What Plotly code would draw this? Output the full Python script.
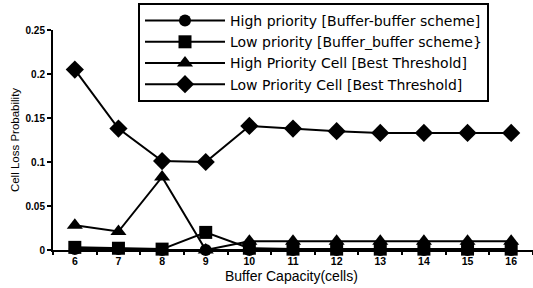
import plotly.graph_objects as go

buffer_capacity = [6, 7, 8, 9, 10, 11, 12, 13, 14, 15, 16]
high_bb = [0.001, 0.001, 0.0, 0.0, 0.0, 0.0, 0.0, 0.0, 0.0, 0.0, 0.0]
low_bb = [0.003, 0.002, 0.001, 0.020, 0.002, 0.001, 0.001, 0.001, 0.001, 0.001, 0.001]
high_bt = [0.028, 0.021, 0.083, 0.0, 0.010, 0.010, 0.010, 0.010, 0.010, 0.010, 0.010]
low_bt = [0.205, 0.138, 0.101, 0.100, 0.141, 0.138, 0.135, 0.133, 0.133, 0.133, 0.133]

series_names = [
    "High priority [Buffer-buffer scheme]",
    "Low priority [Buffer_buffer scheme}",
    "High Priority Cell [Best Threshold]",
    "Low Priority Cell [Best Threshold]",
]
y_ticks = [0, 0.05, 0.1, 0.15, 0.2, 0.25]
y_tick_text = ["0", "0.05", "0.1", "0.15", "0.2", "0.25"]
x_title = "Buffer Capacity(cells)"
y_title = "Cell Loss Probability"

symbols = ["circle", "square", "triangle-up", "diamond"]
sizes = [12, 13, 14, 14]

fig = go.Figure()
for name, vals, sym, sz in zip(series_names, [high_bb, low_bb, high_bt, low_bt], symbols, sizes):
    fig.add_trace(go.Scatter(
        x=buffer_capacity, y=vals, name=name, mode="lines+markers",
        line=dict(color="black", width=2),
        marker=dict(symbol=sym, size=sz, color="black"),
        cliponaxis=False,
    ))

fig.update_layout(
    width=533, height=288,
    margin=dict(l=53, r=0, t=30, b=38, autoexpand=False),
    paper_bgcolor="white", plot_bgcolor="white",
    font=dict(family="Liberation Sans, Arial", color="black"),
    showlegend=True,
    legend=dict(
        xref="container", yref="container",
        x=138 / 533, y=1 - 3 / 288, xanchor="left", yanchor="top",
        bgcolor="white", bordercolor="black", borderwidth=2,
        font=dict(size=14, family="DejaVu Sans"),
        tracegroupgap=0, itemwidth=80,
    ),
    xaxis=dict(
        range=[5.5, 16.5], tickvals=buffer_capacity,
        ticks="", showgrid=False, zeroline=False,
        showline=True, linecolor="black", linewidth=2,
        tickfont=dict(size=10.5, family="Liberation Sans, Arial", weight="bold"),
        minor=dict(tick0=5.5, dtick=1, ticks="outside", ticklen=3, tickwidth=2, tickcolor="black"),
    ),
    yaxis=dict(
        range=[0, 0.25], tickvals=y_ticks, ticktext=y_tick_text,
        ticks="outside", ticklen=4, tickwidth=2, tickcolor="black",
        showgrid=False, zeroline=False,
        showline=True, linecolor="black", linewidth=2,
        tickfont=dict(size=10, family="Liberation Sans, Arial", weight="bold"),
    ),
    annotations=[
        dict(text=x_title, xref="paper", yref="paper", x=0.496, y=-0.118,
             xanchor="center", yanchor="middle", showarrow=False,
             font=dict(size=14, family="Liberation Sans, Arial")),
        dict(text=y_title, xref="paper", yref="paper", x=-0.079, y=0.5,
             xanchor="center", yanchor="middle", showarrow=False, textangle=-90,
             font=dict(size=11.5, family="Liberation Sans, Arial")),
    ],
)

fig.write_html("out.html", config={"displayModeBar": False},
               post_script="document.body.style.margin='0';")
